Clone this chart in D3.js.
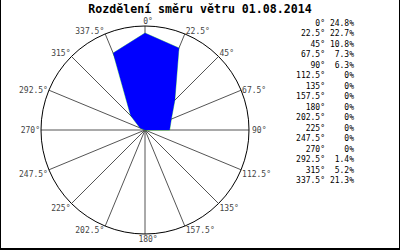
<!DOCTYPE html>
<html><head><meta charset="utf-8">
<script src="https://cdn.jsdelivr.net/npm/d3@7"></script>
<style>body{margin:0;background:#fff}svg{display:block}</style>
</head><body>
<svg id="c" width="400" height="250"></svg>
<script>
const title = "Rozdělení směru větru 01.08.2014";
const directions = [0,22.5,45,67.5,90,112.5,135,157.5,180,202.5,225,247.5,270,292.5,315,337.5];
const dirLabels = ["0°","22.5°","45°","67.5°","90°","112.5°","135°","157.5°","180°","202.5°","225°","247.5°","270°","292.5°","315°","337.5°"];
const percents = [24.8,22.7,10.8,7.3,6.3,0,0,0,0,0,0,0,0,1.4,5.2,21.3];
const percentLabels = ["24.8%","22.7%","10.8%","7.3%","6.3%","0%","0%","0%","0%","0%","0%","0%","0%","1.4%","5.2%","21.3%"];

const svg = d3.select("#c");
const cx = 145, cy = 130, R = 104;
const mono = "'DejaVu Sans Mono', monospace";

// frame
svg.append("line").attr("x1",0.5).attr("y1",0).attr("x2",0.5).attr("y2",250).attr("stroke","#000");
svg.append("line").attr("x1",399.5).attr("y1",0).attr("x2",399.5).attr("y2",250).attr("stroke","#000");
svg.append("line").attr("x1",0).attr("y1",249).attr("x2",400).attr("y2",249).attr("stroke","#000").attr("stroke-width",2);

svg.append("text").attr("x",200).attr("y",13).attr("text-anchor","middle")
  .attr("font-family",mono).attr("font-weight","bold").attr("font-size",11.6).attr("fill","#000").text(title);

const r = d3.scaleLinear().domain([0,26.6]).range([0,R]);
const ang = d3.scaleLinear().domain([0,360]).range([0,2*Math.PI]);
const g = svg.append("g").attr("transform",`translate(${cx},${cy})`);

// spokes
directions.forEach((d,i)=>{
  const a = ang(d), ex = Math.sin(a)*R, ey = -Math.cos(a)*R;
  g.append("line").attr("x1",0).attr("y1",0).attr("x2",ex).attr("y2",ey)
    .attr("stroke","#555").attr("stroke-width",1);
});

// polygon
const line = d3.lineRadial().angle(d=>ang(d[0])).radius(d=>r(d[1])).curve(d3.curveLinearClosed);
const pts = directions.map((d,i)=>[d,percents[i]]);
g.append("path").attr("d",line(pts)).attr("fill","none").attr("stroke","#00c000").attr("stroke-width",0.5);
g.append("path").attr("d",line(pts)).attr("fill","#0000ff").attr("stroke","none");

// circle
g.append("circle").attr("r",R).attr("fill","none").attr("stroke","#000").attr("stroke-width",1);

// labels
directions.forEach((d,i)=>{
  const a = ang(d), s = Math.sin(a), c = Math.cos(a);
  const ex = s*R, ey = -c*R;
  let x = ex, y, anchor;
  if (s > 0.01) { anchor = "start"; x += (Math.abs(c) < 0.3 ? 3 : 1); }
  else if (s < -0.01) { anchor = "end"; x -= 1; }
  else { anchor = "middle"; x += 3; }
  if (c > 0.3) y = ey + (Math.abs(s) > 0.8 ? 2.5 : 0) - (Math.abs(s) < 0.01 ? 2 : 0);
  else if (c < -0.3) y = ey + 7 + (Math.abs(s) < 0.01 ? 1 : 0);
  else y = ey + 3;
  g.append("text").attr("x",x).attr("y",y).attr("text-anchor",anchor)
    .attr("font-family",mono).attr("font-size",8).attr("fill","#444").text(dirLabels[i]);
});

// legend
const ly = d3.scaleLinear().domain([0,15]).range([26,183]);
directions.forEach((d,i)=>{
  svg.append("text").attr("x",325).attr("y",ly(i)).attr("text-anchor","end")
    .attr("font-family",mono).attr("font-size",8).attr("fill","#000").text(dirLabels[i]);
  svg.append("text").attr("x",354).attr("y",ly(i)).attr("text-anchor","end")
    .attr("font-family",mono).attr("font-size",8).attr("fill","#000").text(percentLabels[i]);
});
</script>
</body></html>
